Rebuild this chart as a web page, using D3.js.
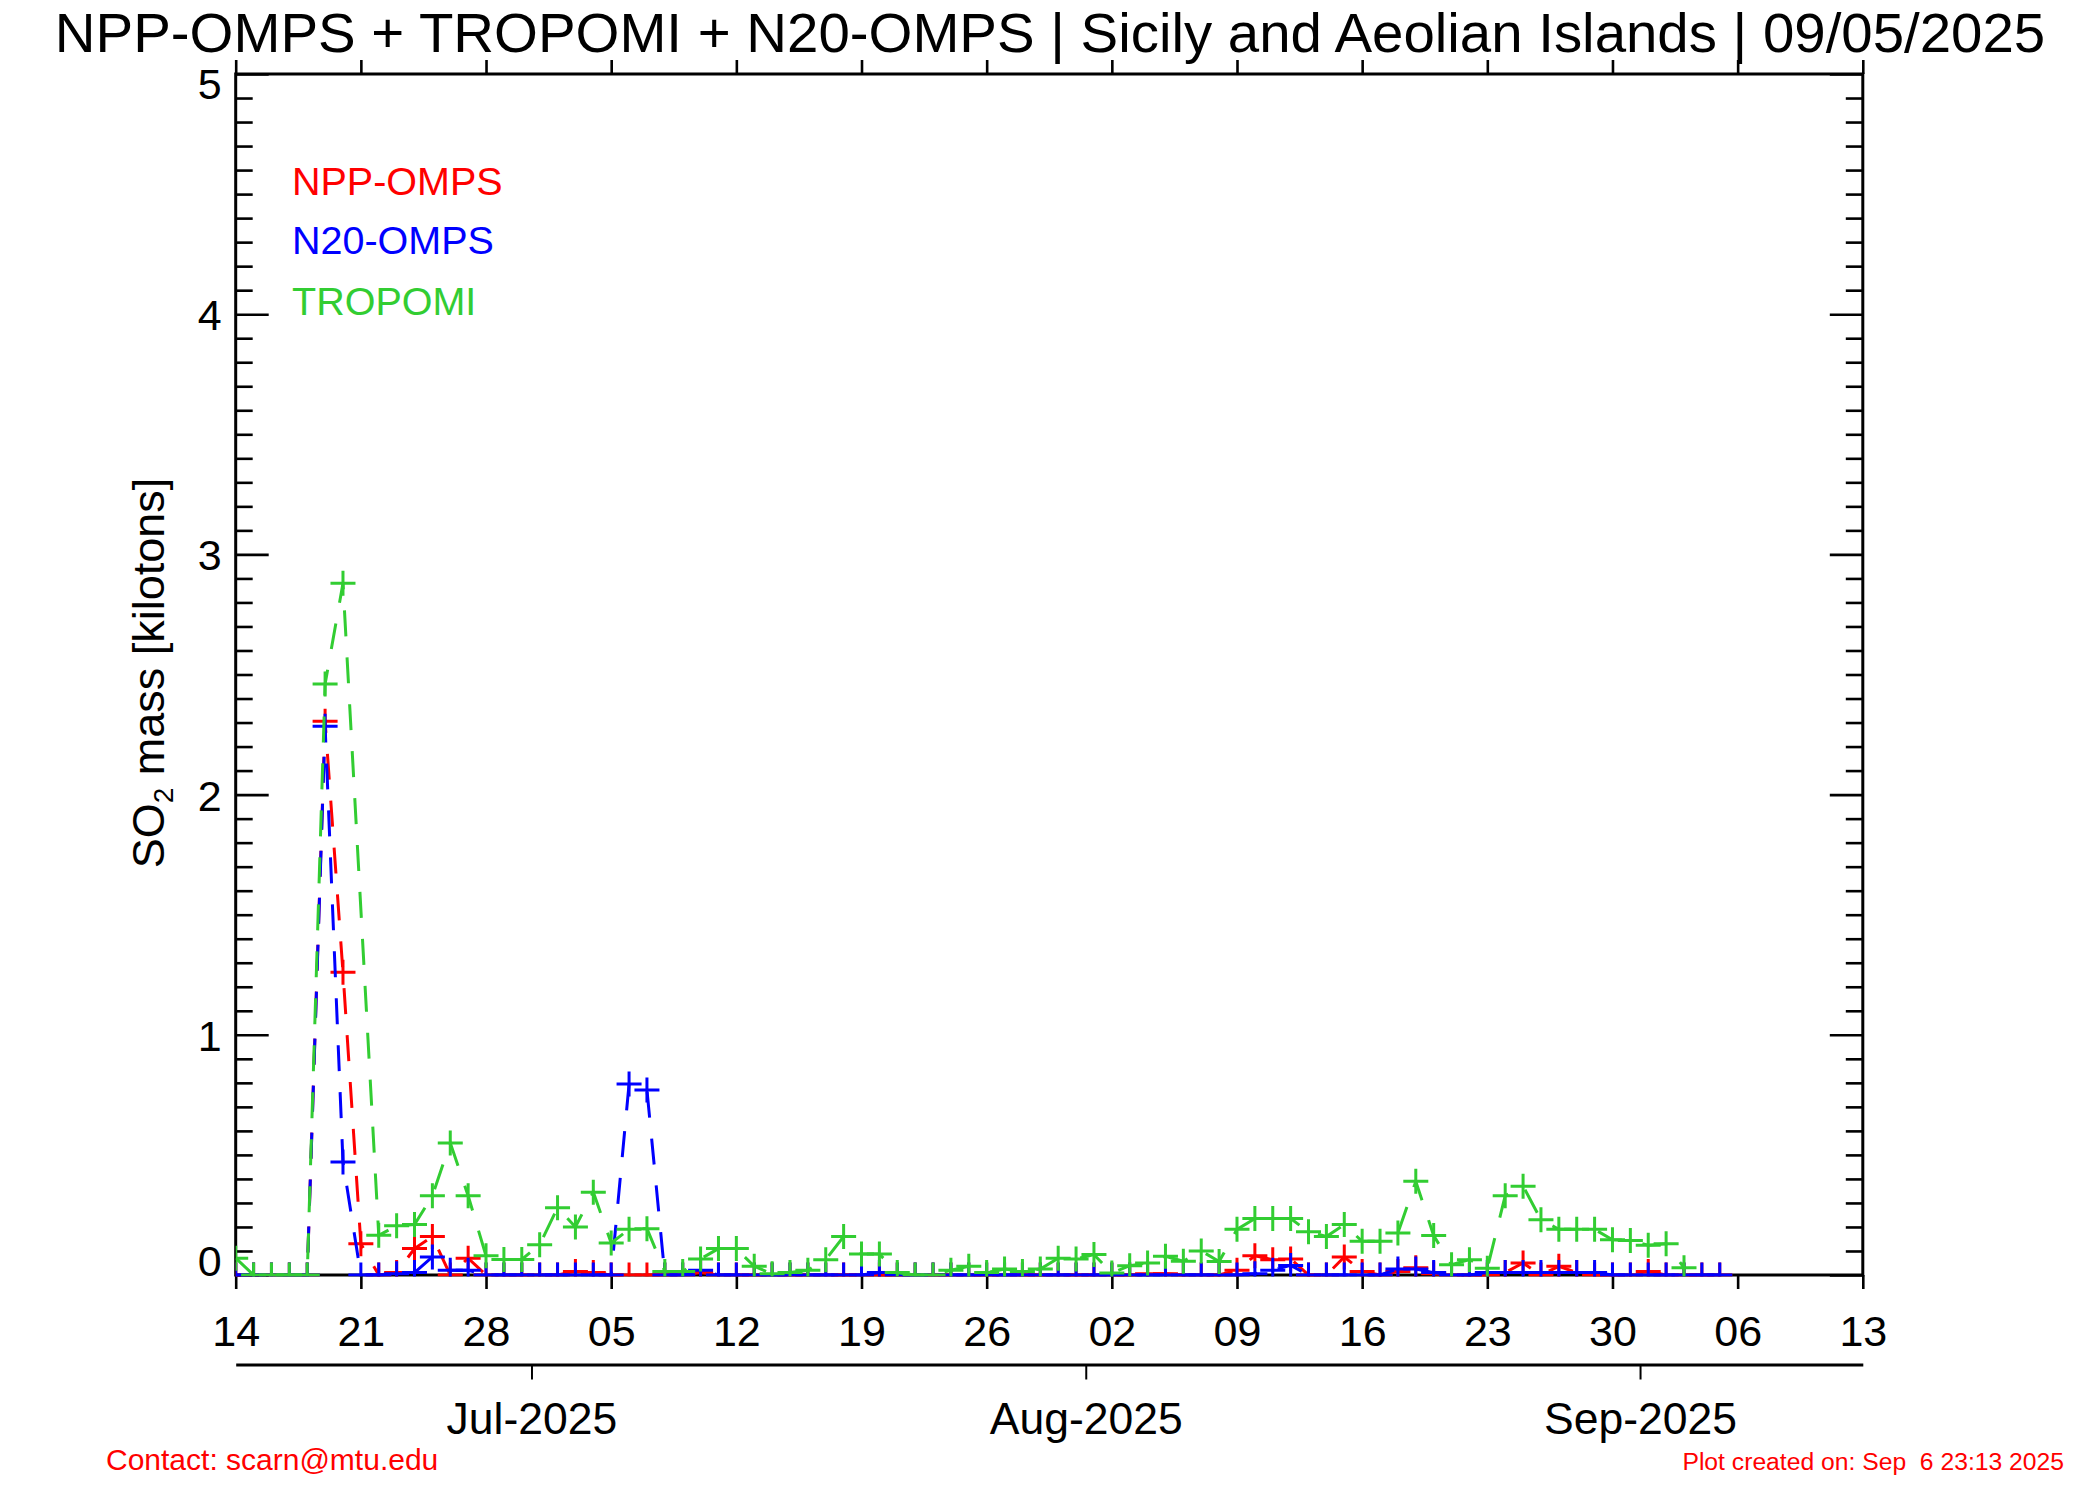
<!DOCTYPE html>
<html><head><meta charset="utf-8">
<script src="https://cdn.jsdelivr.net/npm/d3@7"></script>
<style>
body{margin:0;background:#fff}
svg{display:block}
text{font-family:"Liberation Sans",Arial,Helvetica,sans-serif;}
</style>
</head><body>
<svg id="c" width="2100" height="1500"></svg>
<script>
// ---------------- DATA ----------------
const titleText = "NPP-OMPS + TROPOMI + N20-OMPS | Sicily and Aeolian Islands | 09/05/2025";
const startDate = "2025-06-14";
const endDate = "2025-09-13";
const weekTickLabels = ["14","21","28","05","12","19","26","02","09","16","23","30","06","13"];
const monthDates = ["2025-07-01","2025-08-01","2025-09-01"];
const monthLabels = ["Jul-2025","Aug-2025","Sep-2025"];
const yMajorTicks = [0,1,2,3,4,5];
const yTickLabels = ["0","1","2","3","4","5"];
const seriesNames = ["NPP-OMPS","N20-OMPS","TROPOMI"];
const seriesColors = ["#ff0000","#0000ff","#32cd32"];

// daily values, starting 14 Jun 2025 (null = no observation)
const nppOmps = [
  0,0,0,0,0, 2.305,1.26,0.13,0,0.01,
  0.11,0.16,0,0.07,0,0,0,0,0,0.015,
  0.01,0,0,0,0,0,0.01,0,0,0,
  0,0,0,0,0,0,0,0,0,0,
  0,0,0,0,0,0,0,0,0,0,
  0,0.005,0.005,0,0,0,0.02,0.08,0.064,0.067,
  0,0,0.075,0.015,0,0.015,0.03,0.005,0,0,
  0,0.01,0.05,0,0.036,0.01,0,0,0,0.015,
  0,0,0,0
];
const n20Omps = [
  0,0,0,0,0, 2.285,0.47,0,0,0.005,
  0.01,0.075,0.02,0.02,0,0,0,0,0,0,
  0,0,0.795,0.77,0,0,0.02,0,0,0,
  0,0,0,0,0,0,0.01,0,0,0,
  0,0,0,0,0,0,0,0,0,0,
  0,0,0,0,0,0,0,0.005,0.02,0.04,
  0,0,0,0,0,0.025,0.025,0.01,0,0,
  0.01,0.01,0.01,0.01,0.01,0.01,0.01,0,0,0,
  0,0,0,0
];
const tropomi = [
  0.07,0,0,0,0, 2.46,2.88,null,0.165,0.205,
  0.21,0.33,0.55,0.33,0.08,0.065,0.065,0.126,0.28,0.2,
  0.345,0.133,0.19,0.193,0.015,0.015,0.067,0.11,0.11,0.036,
  0.005,0.01,0.02,0.064,0.16,0.087,0.087,0.01,0,0,
  0.02,0.036,0.01,0.025,0.015,0.025,0.07,0.067,0.085,0.008,
  0.039,0.05,0.078,0.057,0.1,0.056,0.19,0.235,0.235,0.235,
  0.18,0.16,0.21,0.14,0.14,0.175,0.39,0.164,0.043,0.064,
  0.028,0.33,0.37,0.23,0.19,0.19,0.19,0.147,0.144,0.124,
  0.13,0.03
];

// ---------------- LAYOUT ----------------
const L = 235.7, R = 1862.8, T = 74, B = 1275;
const svg = d3.select("#c");
const parse = d3.utcParse("%Y-%m-%d");
const d0 = parse(startDate), d1 = parse(endDate);
const x = d3.scaleUtc().domain([d0, d1]).range([L, R]);
const y = d3.scaleLinear().domain([0, 5]).range([B, T]);
const INK = "#000";
const FONT = '"Liberation Sans",Arial,sans-serif';

// title
svg.append("text").attr("x", 1050).attr("y", 52).attr("text-anchor", "middle")
  .attr("font-size", 56.4).attr("fill", INK).text(titleText);

// y minor ticks
const yMinor = d3.range(0, 51).map(i => i / 10).filter(v => Math.abs(v - Math.round(v)) > 1e-6);

function styleAxis(g) {
  g.select(".domain").remove();
  g.selectAll(".tick line").attr("stroke", INK).attr("stroke-width", 2.6);
}

// left axis minor
svg.append("g").attr("transform", `translate(${L},0)`)
  .call(d3.axisLeft(y).tickValues(yMinor).tickSize(-17).tickFormat(""))
  .call(styleAxis);
// right axis minor
svg.append("g").attr("transform", `translate(${R},0)`)
  .call(d3.axisRight(y).tickValues(yMinor).tickSize(-17).tickFormat(""))
  .call(styleAxis);
// right axis major
svg.append("g").attr("transform", `translate(${R},0)`)
  .call(d3.axisRight(y).tickValues(yMajorTicks).tickSize(-33).tickFormat(""))
  .call(styleAxis);
// left axis major + labels
const yAx = svg.append("g").attr("transform", `translate(${L},0)`)
  .call(d3.axisLeft(y).tickValues(yMajorTicks).tickSize(-33).tickPadding(14)
        .tickFormat((d, i) => yTickLabels[i]))
  .call(styleAxis);
yAx.selectAll("text").attr("font-size", 43).attr("fill", INK)
  .attr("font-family", FONT)
  .attr("dy", "0.36em")
  .attr("y", d => d === 0 ? -15 : (d === 5 ? 9 : 0));

// week ticks bottom and top
const weekDates = d3.utcDay.range(d0, d3.utcDay.offset(d1, 1), 7);
const xb = svg.append("g").attr("transform", `translate(0,${B})`)
  .call(d3.axisBottom(x).tickValues(weekDates).tickSize(14)
        .tickFormat((d, i) => weekTickLabels[i]))
  .call(styleAxis);
xb.selectAll("text").attr("font-size", 43).attr("fill", INK)
  .attr("font-family", FONT)
  .attr("y", 71).attr("dy", 0);
svg.append("g").attr("transform", `translate(0,${T})`)
  .call(d3.axisTop(x).tickValues(weekDates).tickSize(14).tickFormat(""))
  .call(styleAxis);

// month axis
const MY = 1364.5;
const monthPos = monthDates.map(s => d3.utcHour.offset(parse(s), -11));
const mAx = svg.append("g").attr("transform", `translate(0,${MY})`)
  .call(d3.axisBottom(x).tickValues(monthPos).tickSize(15).tickSizeOuter(0)
        .tickFormat((d, i) => monthLabels[i]));
mAx.select(".domain").attr("stroke", INK).attr("stroke-width", 3);
mAx.selectAll(".tick line").attr("stroke", INK).attr("stroke-width", 2);
mAx.selectAll("text").attr("font-size", 44.5).attr("fill", INK)
  .attr("font-family", FONT)
  .attr("y", 69).attr("dy", 0);

// frame
svg.append("rect").attr("x", L).attr("y", T).attr("width", R - L).attr("height", B - T)
  .attr("fill", "none").attr("stroke", INK).attr("stroke-width", 3);

// y label
const yl = svg.append("text").attr("transform", "translate(164,673) rotate(-90)")
  .attr("text-anchor", "middle").attr("font-size", 45).attr("fill", INK);
yl.append("tspan").text("SO");
yl.append("tspan").attr("font-size", 28).attr("dy", 9).text("2");
yl.append("tspan").attr("dy", -9).text(" mass [kilotons]");

// clip
svg.append("defs").append("clipPath").attr("id", "plotclip")
  .append("rect").attr("x", L).attr("y", T).attr("width", R - L).attr("height", B - T + 1.5);

const plot = svg.append("g").attr("clip-path", "url(#plotclip)");
const line = d3.line().x(d => x(d.date)).y(d => y(d.v));

function drawSeries(values, color) {
  const pts = values.map((v, i) => ({date: d3.utcDay.offset(d0, i), v}))
                    .filter(d => d.v !== null);
  const g = plot.append("g");
  g.append("path").datum(pts).attr("d", line).attr("fill", "none")
    .attr("stroke", color).attr("stroke-width", 3).attr("stroke-dasharray", "26,21");
  g.selectAll("path.m").data(pts).join("path").attr("class", "m")
    .attr("d", d => `M${x(d.date) - 12.5},${y(d.v)}H${x(d.date) + 12.5}M${x(d.date)},${y(d.v) - 12.5}V${y(d.v) + 12.5}`)
    .attr("stroke", color).attr("stroke-width", 3).attr("fill", "none");
}
drawSeries(nppOmps, seriesColors[0]);
drawSeries(n20Omps, seriesColors[1]);
drawSeries(tropomi, seriesColors[2]);

// legend
const legendY = [195, 254, 315];
seriesNames.forEach((n, i) => {
  svg.append("text").attr("x", 292).attr("y", legendY[i]).attr("font-size", 39.5)
    .attr("fill", seriesColors[i]).text(n);
});

// footer
svg.append("text").attr("x", 106).attr("y", 1470).attr("font-size", 30)
  .attr("fill", "#ff0000").text("Contact: scarn@mtu.edu");
svg.append("text").attr("x", 2064).attr("y", 1470).attr("font-size", 24.7)
  .attr("text-anchor", "end").attr("fill", "#ff0000")
  .attr("xml:space", "preserve").style("white-space", "pre")
  .text("Plot created on: Sep  6 23:13 2025");
</script>
</body></html>
